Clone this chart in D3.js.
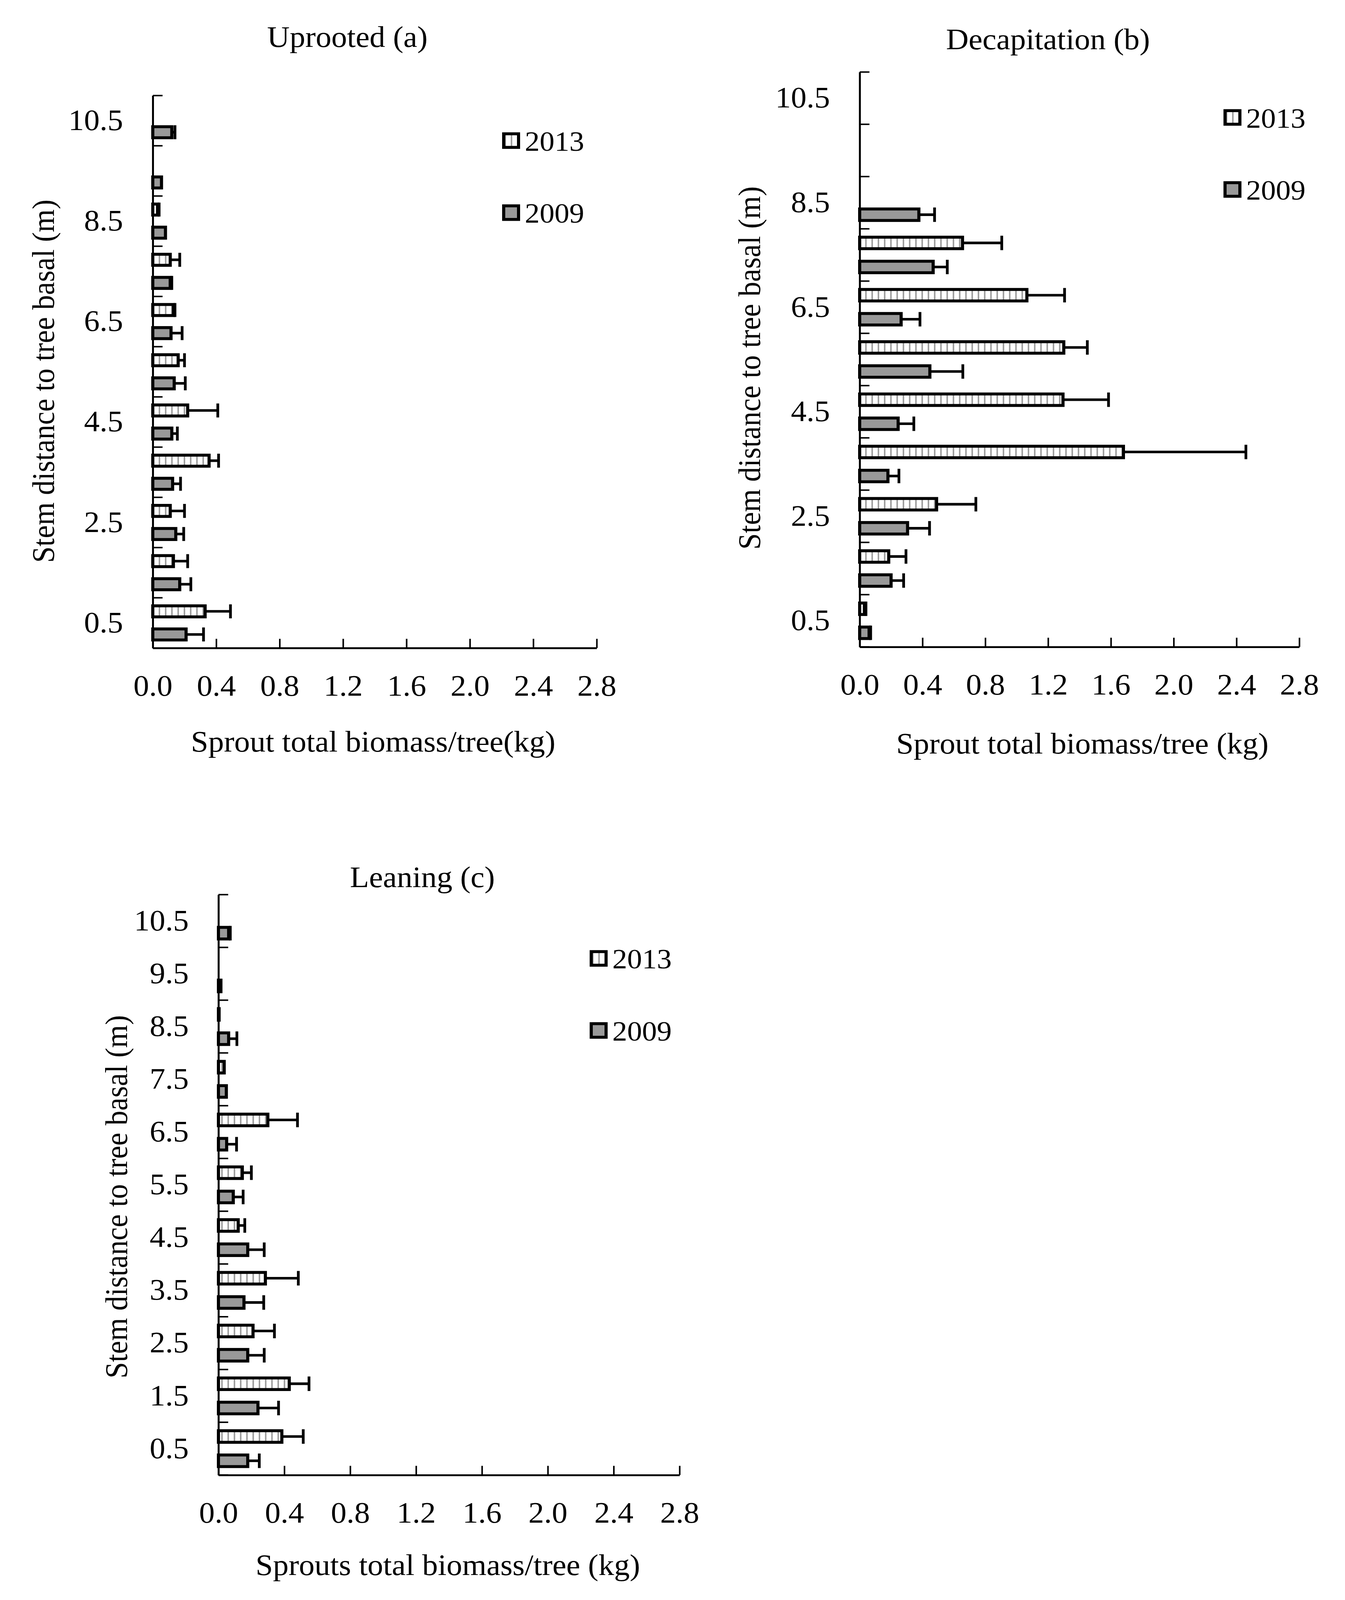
<!DOCTYPE html>
<html>
<head>
<meta charset="utf-8">
<script src="https://cdn.jsdelivr.net/npm/d3@7"></script>
<style>
  html, body { margin: 0; padding: 0; background: #fff; overflow: hidden; }
  svg { display: block; }
  text { font-family: "Liberation Serif", "Times New Roman", serif; fill: #000; }
</style>
</head>
<body>
<svg id="chart" viewBox="0 0 3442 4353" preserveAspectRatio="none"></svg>
<script>
// Data
var categories = ["0.5","1.5","2.5","3.5","4.5","5.5","6.5","7.5","8.5","9.5","10.5"]
var xTicks = [0.0, 0.4, 0.8, 1.2, 1.6, 2.0, 2.4, 2.8]
var seriesNames = ["2013", "2009"]

// Uprooted (a)
var upr2013 = [0.33, 0.13, 0.11, 0.355, 0.22, 0.16, 0.13, 0.11, 0.03, 0, 0]
var upr2013Err = [0.16, 0.09, 0.09, 0.06, 0.19, 0.04, 0.01, 0.06, 0.01, 0, 0]
var upr2009 = [0.21, 0.17, 0.145, 0.125, 0.12, 0.135, 0.115, 0.11, 0.08, 0.055, 0.12]
var upr2009Err = [0.11, 0.07, 0.05, 0.05, 0.035, 0.07, 0.07, 0.01, 0, 0, 0.02]

// Decapitation (b)
var dec2013 = [0.03, 0.185, 0.49, 1.68, 1.295, 1.30, 1.065, 0.655, 0, 0, 0]
var dec2013Err = [0.01, 0.11, 0.25, 0.78, 0.29, 0.15, 0.24, 0.25, 0, 0, 0]
var dec2009 = [0.06, 0.2, 0.305, 0.18, 0.245, 0.447, 0.264, 0.468, 0.377, 0, 0]
var dec2009Err = [0.01, 0.08, 0.14, 0.07, 0.1, 0.21, 0.12, 0.09, 0.1, 0, 0]

// Leaning (c)
var lea2013 = [0.385, 0.43, 0.21, 0.285, 0.12, 0.145, 0.3, 0.035, 0.004, 0, 0]
var lea2013Err = [0.13, 0.12, 0.13, 0.2, 0.04, 0.055, 0.18, 0, 0, 0, 0]
var lea2009 = [0.178, 0.24, 0.178, 0.155, 0.178, 0.09, 0.05, 0.048, 0.062, 0.015, 0.062]
var lea2009Err = [0.07, 0.125, 0.1, 0.12, 0.1, 0.06, 0.06, 0, 0.05, 0, 0.01]

var panels = [
  {title: "Uprooted (a)", xTitle: "Sprout total biomass/tree(kg)", yTitle: "Stem distance to tree basal (m)",
   v2013: upr2013, e2013: upr2013Err, v2009: upr2009, e2009: upr2009Err, yLabelsEvery: 2,
   left: 391, right: 1527, top: 260, bottom: 1763,
   titleX: 889, titleY: 128, xTitleX: 955, xTitleY: 2045, yTitleX: 138, yTitleY: 1037, legX: 1285, legY: 360},
  {title: "Decapitation (b)", xTitle: "Sprout total biomass/tree (kg)", yTitle: "Stem distance to tree basal (m)",
   v2013: dec2013, e2013: dec2013Err, v2009: dec2009, e2009: dec2009Err, yLabelsEvery: 2,
   left: 2200, right: 3325, top: 196, bottom: 1760,
   titleX: 2682, titleY: 134, xTitleX: 2770, xTitleY: 2050, yTitleX: 1945, yTitleY: 1001, legX: 3131, legY: 297},
  {title: "Leaning (c)", xTitle: "Sprouts total biomass/tree (kg)", yTitle: "Stem distance to tree basal (m)",
   v2013: lea2013, e2013: lea2013Err, v2009: lea2009, e2009: lea2009Err, yLabelsEvery: 1,
   left: 559, right: 1739, top: 2434, bottom: 4013,
   titleX: 1081, titleY: 2414, xTitleX: 1146, xTitleY: 4285, yTitleX: 325, yTitleY: 3256, legX: 1509, legY: 2585}
]

// the viewport can be shorter than the page, so the drawing is fitted to it
var svg = d3.select("#chart")
    .style("width", window.innerWidth + "px")
    .style("height", window.innerHeight + "px")
var fontSize = 80, barStroke = 8

// striped fill for 2013
var defs = svg.append("defs")
var pat = defs.append("pattern").attr("id", "stripes")
    .attr("patternUnits", "userSpaceOnUse").attr("width", 16).attr("height", 16)
pat.append("rect").attr("width", 16).attr("height", 16).attr("fill", "#fff")
pat.append("rect").attr("x", 6).attr("width", 4).attr("height", 16).attr("fill", "#a0a0a0")

var fills = {"2013": "url(#stripes)", "2009": "#999999"}

panels.forEach(function(p) {
  var g = svg.append("g")
  var x = d3.scaleLinear().domain([0, 2.8]).range([p.left, p.right])
  var y = d3.scaleBand().domain(categories).range([p.bottom, p.top]).paddingInner(0).paddingOuter(0)
  var bw = y.bandwidth()
  var barH = bw * 0.22
  var offsets = {"2013": -0.23 * bw, "2009": 0.23 * bw}

  var rows = []
  categories.forEach(function(c, i) {
    rows.push({cat: c, series: "2013", v: p.v2013[i], e: p.e2013[i]})
    rows.push({cat: c, series: "2009", v: p.v2009[i], e: p.e2009[i]})
  })
  rows = rows.filter(function(d){ return d.v > 0 })

  // error bars
  var errRows = rows.filter(function(d){ return d.e > 0 })
  g.selectAll(".errLine").data(errRows).enter().append("line")
    .attr("x1", function(d){ return x(d.v) }).attr("x2", function(d){ return x(d.v + d.e) })
    .attr("y1", function(d){ return y(d.cat) + bw/2 + offsets[d.series] })
    .attr("y2", function(d){ return y(d.cat) + bw/2 + offsets[d.series] })
    .attr("stroke", "#000").attr("stroke-width", 7)
  g.selectAll(".errCap").data(errRows).enter().append("line")
    .attr("x1", function(d){ return x(d.v + d.e) }).attr("x2", function(d){ return x(d.v + d.e) })
    .attr("y1", function(d){ return y(d.cat) + bw/2 + offsets[d.series] - barH/2 - 4 })
    .attr("y2", function(d){ return y(d.cat) + bw/2 + offsets[d.series] + barH/2 + 4 })
    .attr("stroke", "#000").attr("stroke-width", 7)

  // bars
  g.selectAll(".bar").data(rows).enter().append("rect")
    .attr("x", x(0))
    .attr("y", function(d){ return y(d.cat) + bw/2 + offsets[d.series] - barH/2 })
    .attr("width", function(d){ return Math.max(x(d.v) - x(0), 1) })
    .attr("height", barH)
    .attr("fill", function(d){ return fills[d.series] })
    .attr("stroke", "#000").attr("stroke-width", barStroke)

  // x axis
  var xAxis = d3.axisBottom(x).tickValues(xTicks).tickFormat(d3.format(".1f"))
      .tickSizeInner(-25).tickSizeOuter(0).tickPadding(73)
  var xg = g.append("g").attr("transform", "translate(0," + p.bottom + ")").call(xAxis)
  xg.select(".domain").attr("stroke", "#000").attr("stroke-width", 5)
  xg.selectAll(".tick line").attr("stroke", "#000").attr("stroke-width", 4)
  xg.selectAll("text").style("font-family", "Liberation Serif").style("font-size", fontSize + "px").attr("fill", "#000")

  // y axis
  var yLabels = categories.filter(function(c, i){ return i % p.yLabelsEvery === 0 })
  var yAxis = d3.axisLeft(y).tickValues(yLabels).tickSize(0).tickPadding(76)
  var yg = g.append("g").attr("transform", "translate(" + p.left + ",0)").call(yAxis)
  yg.select(".domain").attr("stroke", "#000").attr("stroke-width", 5)
  yg.selectAll("text").style("font-family", "Liberation Serif").style("font-size", fontSize + "px").attr("fill", "#000")

  // inside tick marks at category boundaries
  var edges = categories.map(function(c){ return y(c) + bw }).concat([y(categories[categories.length-1])])
  g.selectAll(".edgeTick").data(edges).enter().append("line")
    .attr("x1", p.left).attr("x2", p.left + 25)
    .attr("y1", function(d){ return d }).attr("y2", function(d){ return d })
    .attr("stroke", "#000").attr("stroke-width", 4)

  // titles
  g.append("text").attr("x", p.titleX).attr("y", p.titleY).attr("text-anchor", "middle")
    .style("font-size", fontSize + "px").text(p.title)
  g.append("text").attr("x", p.xTitleX).attr("y", p.xTitleY).attr("text-anchor", "middle")
    .style("font-size", fontSize + "px").text(p.xTitle)
  g.append("text").attr("transform", "translate(" + p.yTitleX + "," + p.yTitleY + ") rotate(-90)")
    .attr("text-anchor", "middle").style("font-size", fontSize + "px").text(p.yTitle)

  // legend
  var leg = g.append("g").attr("transform", "translate(" + p.legX + "," + p.legY + ")")
  seriesNames.forEach(function(s, i) {
    var ly = i * 196
    leg.append("rect").attr("x", 4).attr("y", ly + 4).attr("width", 38).attr("height", 37)
      .attr("fill", fills[s]).attr("stroke", "#000").attr("stroke-width", 8)
    leg.append("text").attr("x", 58).attr("y", ly + 50).style("font-size", "76px").text(s)
  })
})
</script>
</body>
</html>
